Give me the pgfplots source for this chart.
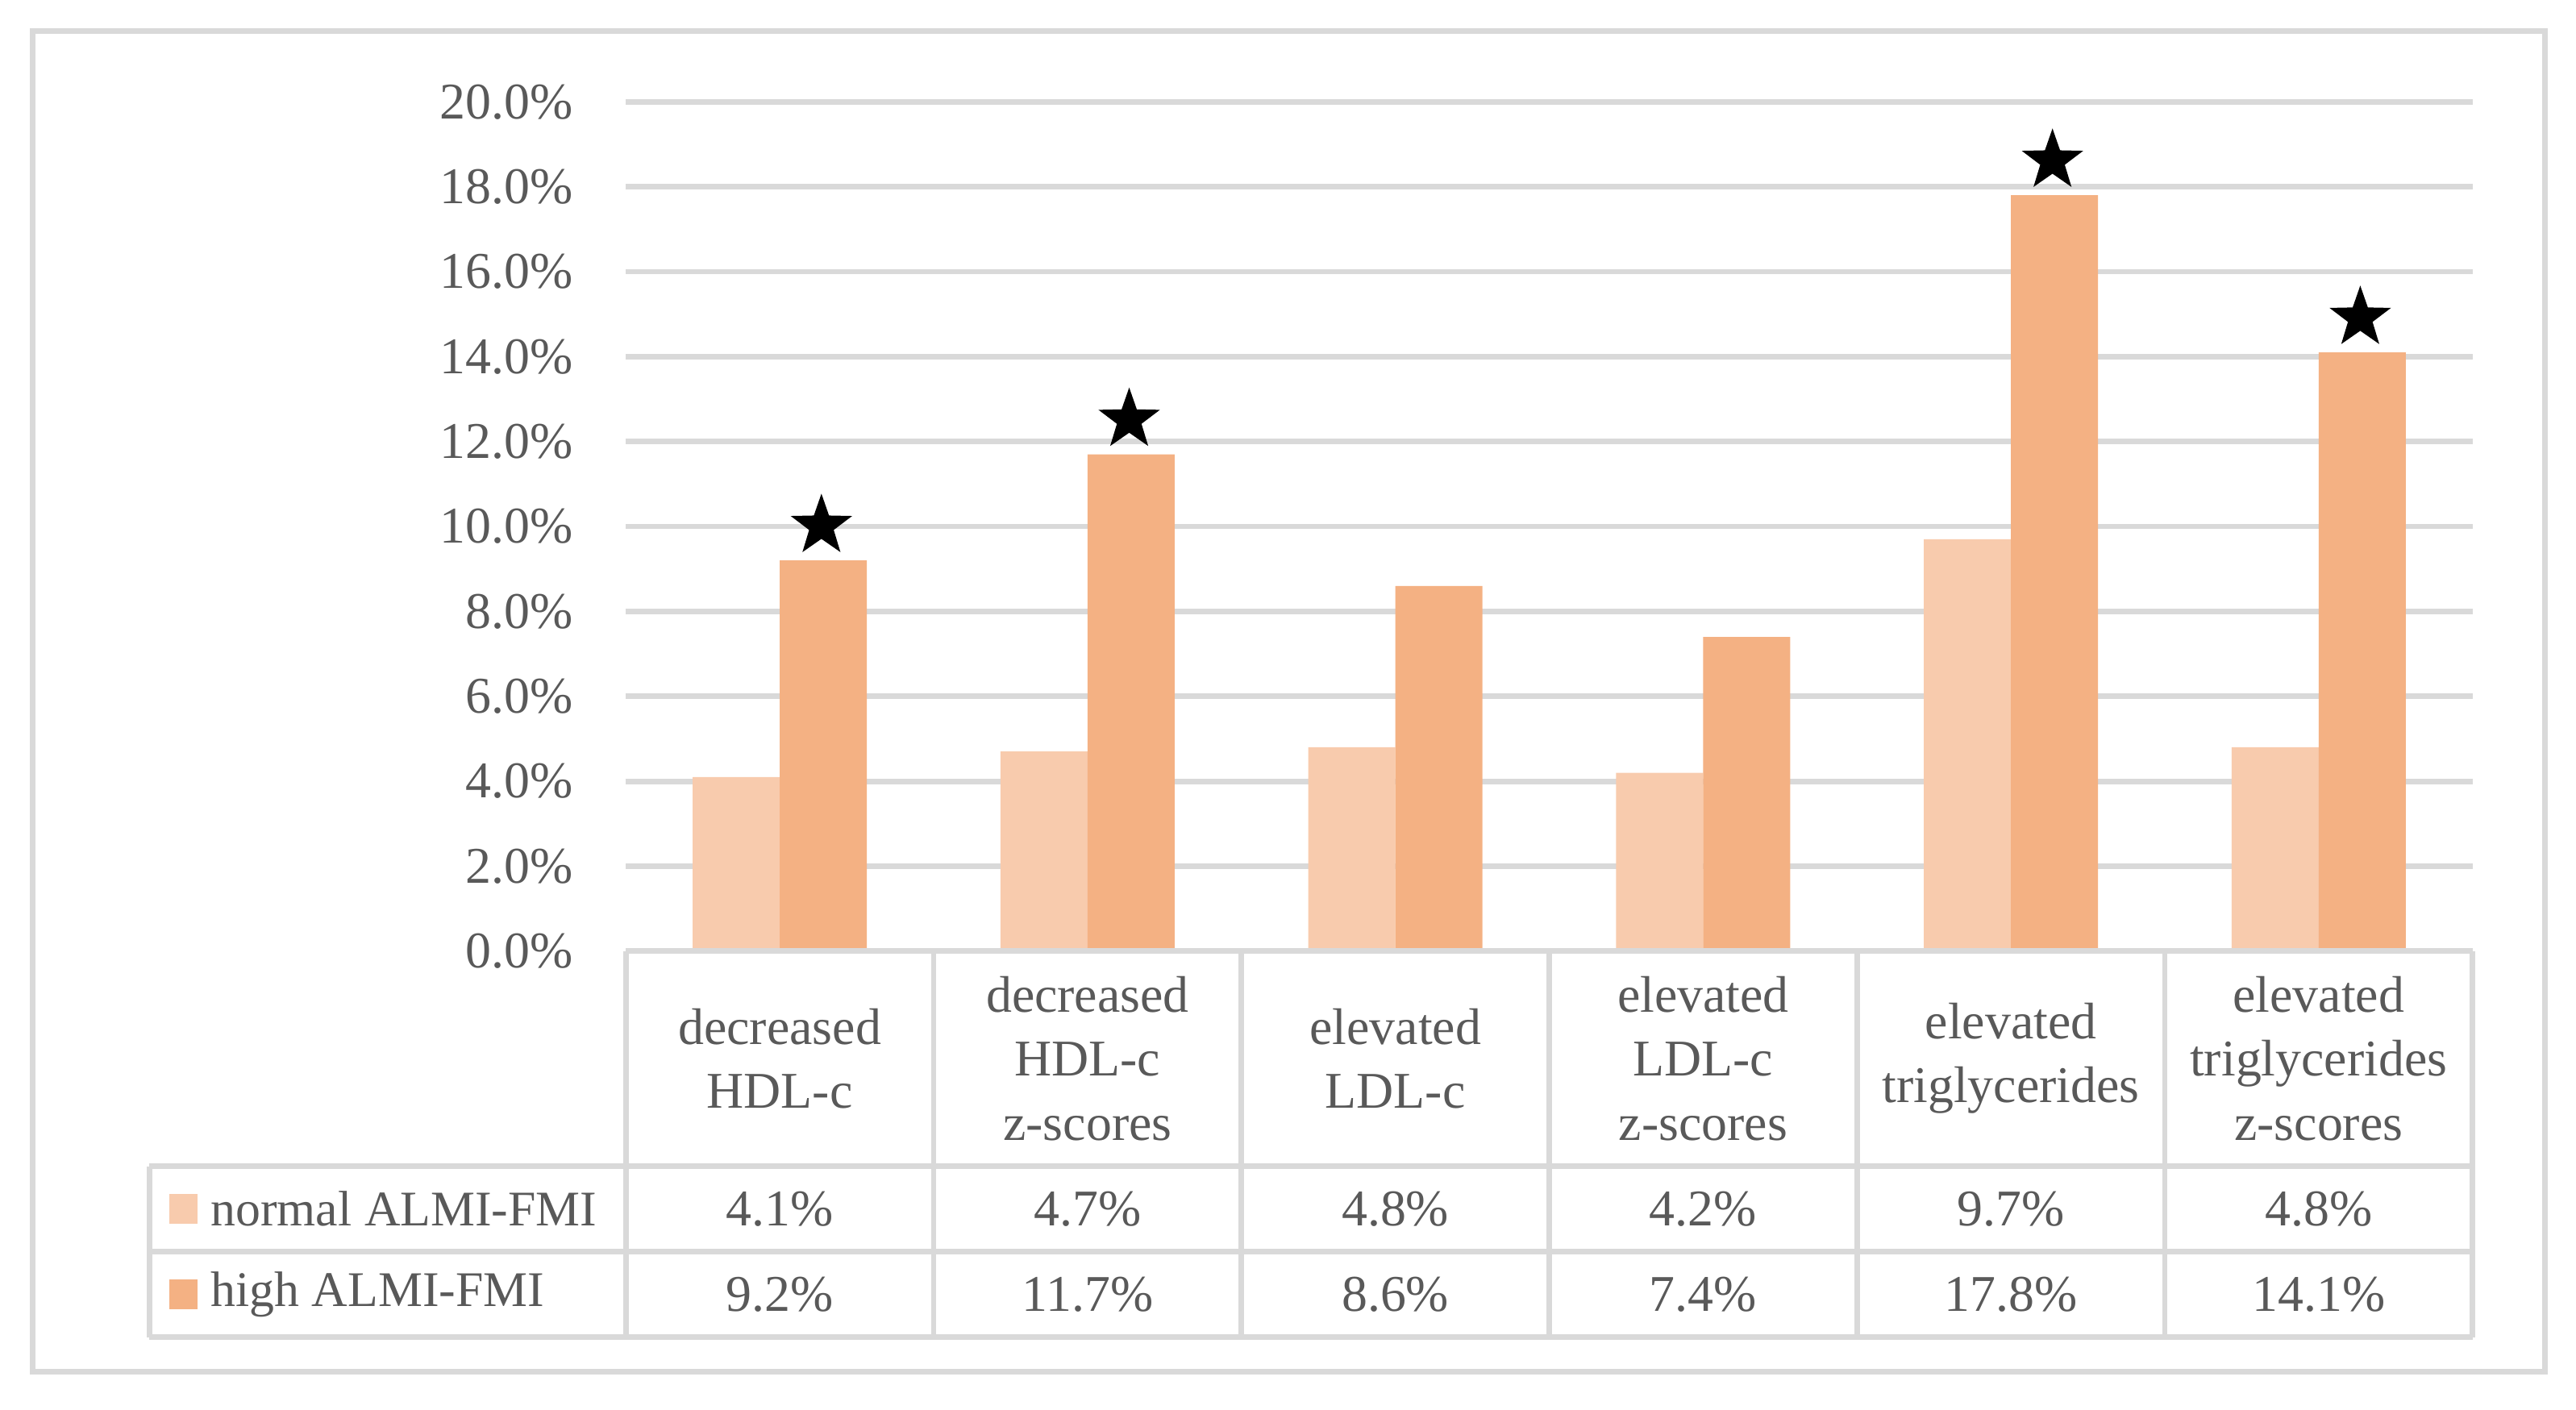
\documentclass[border=0pt]{standalone}
\usepackage{fontspec}
\setmainfont{Liberation Serif}
\usepackage{pgfplots}
\pgfplotsset{compat=1.18}
\usepackage{pgfplotstable}

\definecolor{lightor}{HTML}{F8CBAD}
\definecolor{darkor}{HTML}{F4B183}
\definecolor{gridgray}{HTML}{D9D9D9}
\definecolor{txt}{HTML}{595959}

% filled five-pointed star
\pgfdeclareplotmark{fivestar}{%
  \pgfpathmoveto{\pgfpointpolar{90}{\pgfplotmarksize}}%
  \pgfpathlineto{\pgfpointpolar{126}{0.40\pgfplotmarksize}}%
  \pgfpathlineto{\pgfpointpolar{162}{\pgfplotmarksize}}%
  \pgfpathlineto{\pgfpointpolar{198}{0.40\pgfplotmarksize}}%
  \pgfpathlineto{\pgfpointpolar{234}{\pgfplotmarksize}}%
  \pgfpathlineto{\pgfpointpolar{270}{0.40\pgfplotmarksize}}%
  \pgfpathlineto{\pgfpointpolar{306}{\pgfplotmarksize}}%
  \pgfpathlineto{\pgfpointpolar{342}{0.40\pgfplotmarksize}}%
  \pgfpathlineto{\pgfpointpolar{18}{\pgfplotmarksize}}%
  \pgfpathlineto{\pgfpointpolar{54}{0.40\pgfplotmarksize}}%
  \pgfpathclose
  \pgfusepathqfill
}

\pgfplotstableread{
x normal high
0 4.1 9.2
1 4.7 11.7
2 4.8 8.6
3 4.2 7.4
4 9.7 17.8
5 4.8 14.1
}\datatab

% significant differences
\pgfplotstableread{
x high
0 9.2
1 11.7
4 17.8
5 14.1
}\startab

\newcommand{\fs}{\fontsize{9.4}{11.7}\selectfont}

\begin{document}
\begin{tikzpicture}
\begin{axis}[
	name=ax,
	scale only axis,
	width=337.2pt, height=155.1pt,
	xmin=-0.5, xmax=5.5, ymin=0, ymax=20,
	ytick={0,2,...,20},
	yticklabel={\pgfmathprintnumber[fixed,fixed zerofill,precision=1]{\tick}\%},
	/pgf/number format/assume math mode=true,
	xtick={0,...,5},
	xticklabels={{decreased\\HDL-c},{decreased\\HDL-c\\z-scores},{elevated\\LDL-c},{elevated\\LDL-c\\z-scores},{elevated\\triglycerides},{elevated\\triglycerides\\z-scores}},
	axis line style={draw=none},
	major tick length=0pt,
	ymajorgrids=true,
	grid style={gridgray, line width=1pt},
	tick label style={font=\fs, text=txt},
	yticklabel style={xshift=-6.2pt},
	xticklabel style={anchor=center, yshift=-19.6pt, align=center},
	clip=false,
]
\addplot[ybar, bar width=15.9pt, bar shift=-7.95pt, fill=lightor, draw=none]
	table[x=x, y=normal]{\datatab};
\addplot[ybar, bar width=15.9pt, bar shift=7.95pt, fill=darkor, draw=none]
	table[x=x, y=high]{\datatab};
\addplot[only marks, mark=fivestar, mark size=5.9pt, black,
	mark options={xshift=7.6pt, yshift=6.3pt}]
	table[x=x, y=high]{\startab};
\end{axis}

\begin{scope}[shift={(ax.south west)}]
% page extent
\path (-114.3pt,-83.7pt) rectangle (356.1pt,173.7pt);
% outer frame
\draw[gridgray, line width=1pt] (-108.3pt,-76.8pt) rectangle (350.4pt,168pt);
% data table
\begin{scope}[gridgray, line width=1pt]
\draw (0,0) -- (337.2pt,0);
\draw (-87pt,-39.3pt) -- (337.2pt,-39.3pt);
\draw (-87pt,-54.9pt) -- (337.2pt,-54.9pt);
\draw (-87pt,-70.5pt) -- (337.2pt,-70.5pt);
\draw (-87pt,-39.3pt) -- (-87pt,-70.5pt);
\foreach \k in {0,...,6}
	\draw (\k*56.2pt,0) -- (\k*56.2pt,-70.5pt);
\end{scope}
\fill[lightor] (-83.4pt,-49.8pt) rectangle (-78.3pt,-44.4pt);
\fill[darkor] (-83.4pt,-65.4pt) rectangle (-78.3pt,-60.0pt);
\node[anchor=west, font=\fontsize{9.1}{11.7}\selectfont, text=txt, inner sep=0pt] at (-76pt,-47.1pt) {normal ALMI-FMI};
\node[anchor=west, font=\fontsize{9.1}{11.7}\selectfont, text=txt, inner sep=0pt] at (-76pt,-62.7pt) {high ALMI-FMI};
\foreach \v [count=\i from 0] in {4.1,4.7,4.8,4.2,9.7,4.8}
	\node[font=\fs, text=txt] at (\i*56.2pt+28.1pt,-47.1pt) {\v\%};
\foreach \v [count=\i from 0] in {9.2,11.7,8.6,7.4,17.8,14.1}
	\node[font=\fs, text=txt] at (\i*56.2pt+28.1pt,-62.7pt) {\v\%};
\end{scope}
\end{tikzpicture}
\end{document}
